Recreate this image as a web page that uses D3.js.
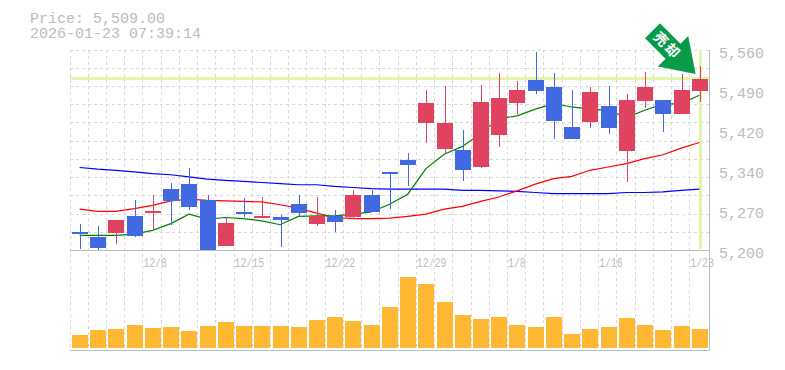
<!DOCTYPE html>
<html>
<head>
<meta charset="utf-8">
<script src="https://cdnjs.cloudflare.com/ajax/libs/d3/7.8.5/d3.min.js"></script>
<style>
body{margin:0;background:#fff;}
text{font-family:"Liberation Mono",monospace;fill:#bcbcbc;}
</style>
</head>
<body>
<svg id="chart" width="785" height="370"></svg>
<script>
var currentPrice = 5509;
var priceLabel = "Price: 5,509.00";
var timeLabel = "2026-01-23 07:39:14";

var opens  = [5233,5224,5231,5262,5267,5310,5319,5290,5208,5269,5260,5260,5283,5247,5262,5260,5299,5341,5362,5429,5382,5380,5350,5407,5465,5506,5494,5422,5431,5460,5379,5469,5470,5445,5487];
var closes = [5229,5205,5254,5226,5271,5289,5278,5200,5249,5267,5262,5254,5267,5262,5251,5299,5269,5337,5353,5465,5429,5344,5467,5474,5488,5487,5433,5400,5485,5420,5470,5494,5445,5488,5509];
var highs  = [5247,5244,5254,5290,5299,5321,5348,5299,5260,5294,5296,5263,5299,5296,5272,5308,5308,5341,5375,5488,5496,5416,5497,5519,5505,5557,5519,5488,5494,5496,5481,5521,5470,5517,5532];
var lows   = [5203,5201,5211,5224,5236,5245,5272,5200,5208,5260,5260,5206,5260,5244,5233,5256,5269,5274,5316,5393,5373,5325,5348,5386,5445,5481,5400,5400,5420,5409,5323,5456,5413,5445,5467];

var maShort = [5227,5227,5227,5229,5236,5248,5265,5256,5259,5257,5253,5246,5261,5262,5262,5265,5269,5283,5301,5347,5373,5387,5410,5437,5442,5454,5464,5458,5454,5452,5439,5452,5463,5464,5479];
var maMid   = [5274,5270,5270,5275,5281,5289,5292,5290,5289,5288,5287,5282,5276,5267,5259,5257,5257,5258,5261,5265,5274,5279,5288,5296,5307,5319,5329,5333,5344,5350,5356,5365,5372,5384,5394];
var maLong  = [5349,5346,5344,5341,5338,5336,5332,5328,5326,5324,5322,5320,5318,5318,5315,5313,5311,5310,5310,5310,5310,5308,5308,5307,5306,5304,5302,5302,5302,5302,5304,5304,5305,5308,5310];

var volumes = [13,18,19,23,20,21,17,22,26,22,22,22,21,28,31,27,23,41,71,64,46,33,29,31,23,21,31,14,19,21,30,23,18,22,19];

var dateLabels = ["12/8","12/15","12/22","12/29","1/8","1/16","1/23"];
var dateIndex = [4,9,14,19,24,29,34];
var priceTicks = [5560,5488,5416,5344,5272,5200];
var priceTickLabels = ["5,560","5,490","5,420","5,340","5,270","5,200"];

var svg = d3.select("#chart");
var x = d3.scaleBand().domain(d3.range(35)).range([70.5,708.5]);
var y = d3.scaleLinear().domain([5200,5560]).range([250.3,50.3]);
var yVol = d3.scaleLinear().domain([0,71]).range([348,277]);
var step = x.step();

// grid
var gridX = d3.range(35).map(function(i){ return Math.floor(70 + step*i) + 0.5; });
var gridY = d3.range(11).map(function(i){ return Math.floor(50 + step*i) + 0.5; });
var grid = svg.append("g").attr("stroke","#d8d8d8").attr("stroke-dasharray","3,3");
grid.selectAll("line.v").data(gridX).enter().append("line")
	.attr("class","v")
	.attr("x1",function(d){return d;}).attr("x2",function(d){return d;})
	.attr("y1",50).attr("y2",350);
grid.selectAll("line.h").data(gridY).enter().append("line")
	.attr("class","h")
	.attr("y1",function(d){return d;}).attr("y2",function(d){return d;})
	.attr("x1",70).attr("x2",709);

// current price cross
var cross = svg.append("g").attr("stroke","#e2f5a8").attr("stroke-width",3);
cross.append("line").attr("x1",70).attr("x2",709)
	.attr("y1",Math.floor(y(currentPrice))+0.5).attr("y2",Math.floor(y(currentPrice))+0.5);
cross.append("line").attr("x1",700.5).attr("x2",700.5).attr("y1",50).attr("y2",249);

// moving averages under the candles
var line = d3.line().x(function(d,i){ return x(i) + step/2; }).y(function(d){ return y(d); });
[[maLong,"#0000ff"],[maMid,"#ff0000"],[maShort,"#008000"]].forEach(function(m){
	svg.append("path").datum(m[0]).attr("d",line).attr("fill","none")
		.attr("stroke",m[1]).attr("stroke-width",1.2);
});

// candles
var BLUE = "#4169e1", RED = "#e0435f";
var candles = svg.append("g").selectAll("g").data(d3.range(35)).enter().append("g")
	.attr("shape-rendering","crispEdges")
	.attr("fill",function(i){ return closes[i] >= opens[i] ? RED : BLUE; })
	.attr("stroke",function(i){ return closes[i] >= opens[i] ? RED : BLUE; });
candles.append("line")
	.attr("stroke-width",1)
	.attr("x1",function(i){ return Math.round(x(i)+1.5)+8.5; })
	.attr("x2",function(i){ return Math.round(x(i)+1.5)+8.5; })
	.attr("y1",function(i){ return y(highs[i]); })
	.attr("y2",function(i){ return y(lows[i]); });
candles.append("rect")
	.attr("stroke","none")
	.attr("x",function(i){ return Math.round(x(i)+1.5); })
	.attr("width",16)
	.attr("y",function(i){ return Math.round(y(Math.max(opens[i],closes[i]))); })
	.attr("height",function(i){ return Math.max(2,Math.round(Math.abs(y(opens[i])-y(closes[i])))); });

// volume
svg.append("g").selectAll("rect").data(volumes).enter().append("rect")
	.attr("shape-rendering","crispEdges")
	.attr("fill","#ffb833")
	.attr("x",function(d,i){ return Math.round(x(i)+1.5); })
	.attr("width",16)
	.attr("y",function(d){ return yVol(d); })
	.attr("height",function(d){ return yVol(0)-yVol(d); });

// frame
var frame = svg.append("g").attr("stroke","#bdbdbd").attr("stroke-width",1).attr("shape-rendering","crispEdges");
frame.append("line").attr("x1",70).attr("x2",710).attr("y1",250.5).attr("y2",250.5);
frame.append("line").attr("x1",70).attr("x2",710).attr("y1",350).attr("y2",350);
frame.append("line").attr("x1",709.5).attr("x2",709.5).attr("y1",50).attr("y2",351);

// right price axis
var axis = d3.axisRight(y).tickValues(priceTicks).tickSize(0).tickPadding(0)
	.tickFormat(function(d,i){ return priceTickLabels[i]; });
var axisG = svg.append("g").attr("transform","translate(719,2)").call(axis);
axisG.select(".domain").remove();
axisG.selectAll("text").style("font-size","15px").style("font-family",'"Liberation Mono",monospace').attr("fill","#bcbcbc");

// date labels
svg.append("g").selectAll("text").data(dateLabels).enter().append("text")
	.attr("x",function(d,i){ return x(dateIndex[i]); })
	.attr("y",267)
	.attr("textLength",function(d){ return d.length*5.9; })
	.attr("lengthAdjust","spacingAndGlyphs")
	.style("font-size","12px")
	.text(function(d){ return d; });

// header
svg.append("text").attr("x",30).attr("y",23).style("font-size","15px").text(priceLabel);
svg.append("text").attr("x",30).attr("y",38).style("font-size","15px").text(timeLabel);

// signal arrow
var arrow = svg.append("g").attr("transform","translate(652.5,30.8) rotate(45)");
arrow.append("path").attr("fill","#0a9b4a")
	.attr("d","M0,-10.6 L29,-10.6 L29,-21.5 L61,0 L29,21.5 L29,10.6 L0,10.6 Z");
arrow.append("text").attr("x",12).attr("y",5).attr("text-anchor","middle")
	.style("font-family",'"Noto Sans CJK JP"').style("font-size","14px").style("font-weight","bold")
	.style("fill","#fff").text("売");
arrow.append("text").attr("x",28).attr("y",5).attr("text-anchor","middle")
	.style("font-family",'"Noto Sans CJK JP"').style("font-size","14px").style("font-weight","bold")
	.style("fill","#fff").text("却");
</script>
</body>
</html>
